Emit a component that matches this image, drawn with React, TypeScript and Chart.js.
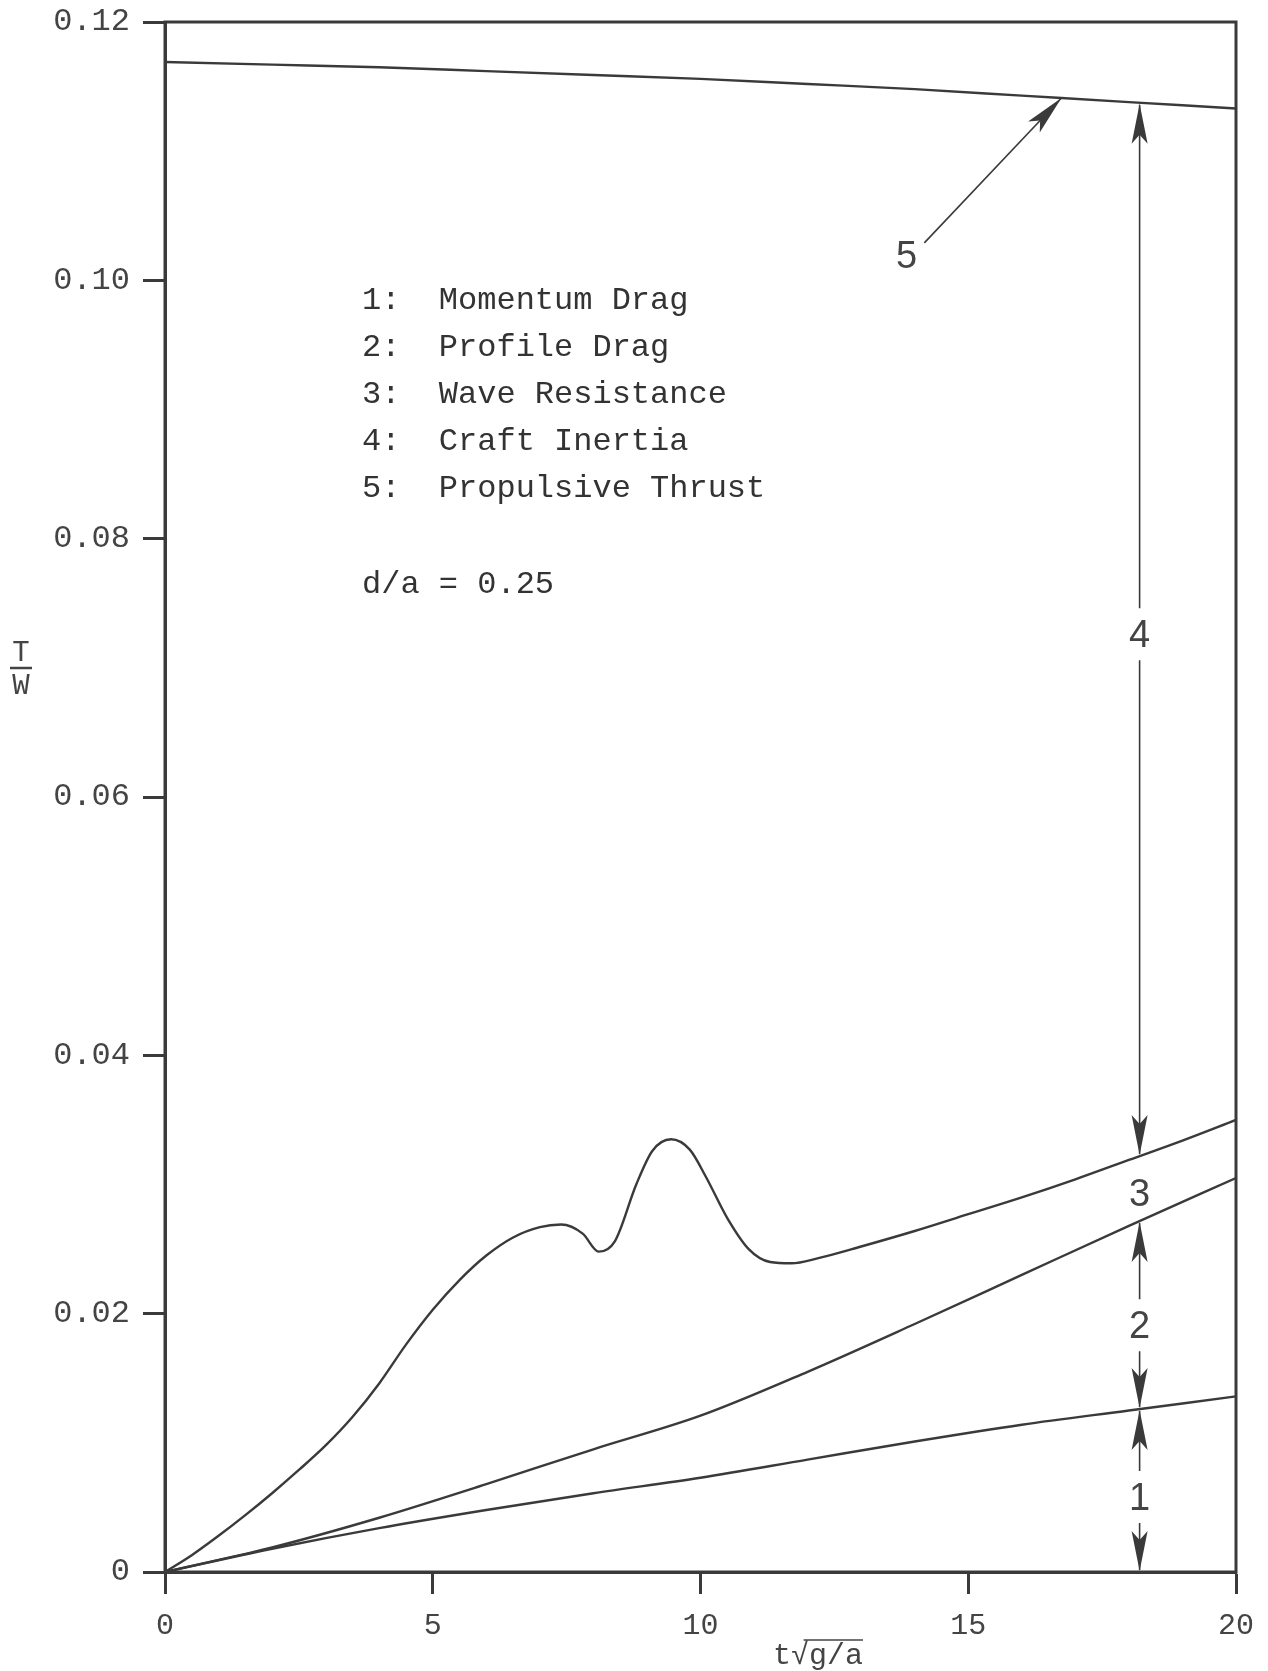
import React, { useEffect, useRef } from 'react';
import { Chart, registerables } from 'chart.js';

Chart.register(...registerables);

// ---- data ----
const xGrid = [0, 2, 4, 6, 8, 10, 12, 14, 16, 18, 20];
const momentumDrag = [0, 0.0018, 0.0034, 0.0048, 0.0061, 0.0073, 0.0087, 0.0101, 0.0114, 0.0125, 0.0136];
const profileDrag = [0, 0.0019, 0.0042, 0.0068, 0.0095, 0.0121, 0.0155, 0.0192, 0.023, 0.0268, 0.0305];
const propulsiveThrust = [0.1169, 0.1167, 0.1165, 0.1162, 0.1159, 0.1156, 0.1152, 0.1148, 0.1143, 0.1138, 0.1133];

const xWave = [0, 0.5, 1, 1.5, 2, 2.5, 3, 3.5, 4, 4.5, 5, 5.5, 6, 6.5, 7, 7.4, 7.8, 8.1, 8.4, 8.8, 9.1, 9.45, 9.8, 10.1, 10.5, 10.9, 11.3, 11.7, 12.2, 13, 14, 15, 16, 17, 18, 19, 20];
const waveResistance = [0, 0.0013, 0.0028, 0.0044, 0.0061, 0.0079, 0.0098, 0.012, 0.0146, 0.0176, 0.0203, 0.0226, 0.0245, 0.0259, 0.0267, 0.0269, 0.0262, 0.0248, 0.0256, 0.03, 0.0326, 0.0335, 0.0327, 0.0306, 0.0274, 0.025, 0.024, 0.0239, 0.0243, 0.0252, 0.0264, 0.0277, 0.029, 0.0304, 0.0319, 0.0334, 0.035];

const xTicks = [0, 5, 10, 15, 20];
const yTicks = [0, 0.02, 0.04, 0.06, 0.08, 0.1, 0.12];

const legendLines = ['1:  Momentum Drag', '2:  Profile Drag', '3:  Wave Resistance', '4:  Craft Inertia', '5:  Propulsive Thrust'];
const ratioLabel = 'd/a = 0.25';

// annotation anchors in data units
const stackX = 18.2;
const stackLabels = [
  { text: '4', y: 0.0726 },
  { text: '3', y: 0.0293 },
  { text: '2', y: 0.0191 },
  { text: '1', y: 0.0058 },
];
const arrow5TipX = 16.74;
const arrow5Tail = { x: 14.18, y: 0.1029 };
const label5 = { x: 13.85, y: 0.1019 };

const INK = '#3a3a3a';

function interp(xs: number[], ys: number[], x: number) {
  for (let i = 0; i < xs.length - 1; i++) {
    if (x >= xs[i] && x <= xs[i + 1]) {
      const t = (x - xs[i]) / (xs[i + 1] - xs[i]);
      return ys[i] + t * (ys[i + 1] - ys[i]);
    }
  }
  return ys[ys.length - 1];
}

function arrowHead(ctx: CanvasRenderingContext2D, tx: number, ty: number, dx: number, dy: number) {
  const len = Math.hypot(dx, dy) || 1;
  const ux = dx / len, uy = dy / len;
  const px = -uy, py = ux;
  const L = 40, W = 8, N = 9;
  const bx = tx - ux * L, by = ty - uy * L;
  ctx.beginPath();
  ctx.moveTo(tx, ty);
  ctx.lineTo(bx + px * W, by + py * W);
  ctx.lineTo(tx - ux * (L - N), ty - uy * (L - N));
  ctx.lineTo(bx - px * W, by - py * W);
  ctx.closePath();
  ctx.fill();
}

const annotPlugin = {
  id: 'annot',
  afterDraw(chart: any) {
    const { ctx, chartArea: ca, scales } = chart;
    const xs = scales.x, ys = scales.y;
    ctx.save();

    // frame
    ctx.strokeStyle = INK;
    ctx.lineWidth = 3;
    ctx.strokeRect(ca.left, ca.top, ca.right - ca.left, ca.bottom - ca.top);

    // legend text
    ctx.fillStyle = '#333';
    ctx.font = '32px "Liberation Mono", "DejaVu Sans Mono", monospace';
    ctx.textAlign = 'left';
    ctx.textBaseline = 'middle';
    legendLines.forEach((t, i) => ctx.fillText(t, ca.left + 197, ca.top + 279 + i * 47));
    ctx.fillText(ratioLabel, ca.left + 197, ca.top + 563);

    // stacked dimension arrows
    const sx = xs.getPixelForValue(stackX);
    const y5 = ys.getPixelForValue(interp(xGrid, propulsiveThrust, stackX));
    const y3 = ys.getPixelForValue(interp(xWave, waveResistance, stackX));
    const y2 = ys.getPixelForValue(interp(xGrid, profileDrag, stackX));
    const y1 = ys.getPixelForValue(interp(xGrid, momentumDrag, stackX));
    const y0 = ys.getPixelForValue(0);
    const gap = 26;
    ctx.strokeStyle = INK;
    ctx.fillStyle = INK;
    ctx.lineWidth = 1.6;
    const segs = [
      { top: y5, bottom: y3, label: stackLabels[0] },
      { top: y2, bottom: y1, label: stackLabels[2] },
      { top: y1, bottom: y0, label: stackLabels[3] },
    ];
    ctx.font = '38px "Liberation Sans Narrow", "Liberation Sans", sans-serif';
    ctx.textAlign = 'center';
    ctx.textBaseline = 'middle';
    segs.forEach((s) => {
      const ly = ys.getPixelForValue(s.label.y);
      ctx.beginPath();
      ctx.moveTo(sx, s.top + 2);
      ctx.lineTo(sx, ly - gap);
      ctx.moveTo(sx, ly + gap);
      ctx.lineTo(sx, s.bottom - 2);
      ctx.stroke();
      arrowHead(ctx, sx, s.top + 1, 0, -1);
      arrowHead(ctx, sx, s.bottom - 1, 0, 1);
      ctx.fillStyle = '#444';
      ctx.fillText(s.label.text, sx, ly + 2);
      ctx.fillStyle = INK;
    });
    ctx.fillStyle = '#444';
    ctx.fillText(stackLabels[1].text, sx, ys.getPixelForValue(stackLabels[1].y) + 2);

    // arrow 5
    const tx = xs.getPixelForValue(arrow5TipX);
    const ty = ys.getPixelForValue(interp(xGrid, propulsiveThrust, arrow5TipX));
    const ax = xs.getPixelForValue(arrow5Tail.x);
    const ay = ys.getPixelForValue(arrow5Tail.y);
    ctx.fillStyle = INK;
    ctx.beginPath();
    ctx.moveTo(ax, ay);
    ctx.lineTo(tx, ty);
    ctx.stroke();
    arrowHead(ctx, tx, ty, tx - ax, ty - ay);
    ctx.fillStyle = '#444';
    ctx.fillText('5', xs.getPixelForValue(label5.x), ys.getPixelForValue(label5.y) + 2);

    // y axis title T / W
    ctx.fillStyle = '#444';
    ctx.font = '29px "Liberation Mono", monospace';
    ctx.textAlign = 'center';
    ctx.textBaseline = 'middle';
    const tyc = (ca.top + ca.bottom) / 2 - 130;
    ctx.fillText('T', 21, tyc - 14);
    ctx.fillText('W', 21, tyc + 19);
    ctx.lineWidth = 2.5;
    ctx.strokeStyle = '#444';
    ctx.beginPath();
    ctx.moveTo(10, tyc + 1);
    ctx.lineTo(32, tyc + 1);
    ctx.stroke();

    // x axis title t sqrt(g/a)
    ctx.font = '30px "Liberation Mono", monospace';
    ctx.textAlign = 'left';
    ctx.textBaseline = 'alphabetic';
    const parts = ['t', '\u221A', 'g/a'];
    const widths = parts.map((p) => ctx.measureText(p).width);
    const total = widths.reduce((a, b) => a + b, 0);
    let cx = 818 - total / 2;
    const base = 1664;
    ctx.fillText(parts[0], cx, base);
    cx += widths[0];
    ctx.fillText(parts[1], cx, base);
    const olStart = cx + widths[1] * 0.7;
    cx += widths[1];
    ctx.fillText(parts[2], cx, base);
    ctx.lineWidth = 1.6;
    ctx.beginPath();
    ctx.moveTo(olStart, base - 24);
    ctx.lineTo(cx + widths[2], base - 24);
    ctx.stroke();

    ctx.restore();
  },
};

function App() {
  const ref = useRef<HTMLCanvasElement | null>(null);
  useEffect(() => {
    if (!ref.current) return;
    const line = (xs: number[], ys: number[]) => xs.map((x, i) => ({ x, y: ys[i] }));
    const common = {
      borderColor: INK,
      borderWidth: 2.4,
      pointRadius: 0,
      fill: false,
      cubicInterpolationMode: 'monotone' as const,
    };
    const chart = new Chart(ref.current, {
      type: 'line',
      data: {
        datasets: [
          { label: 'Momentum Drag', data: line(xGrid, momentumDrag), ...common },
          { label: 'Profile Drag', data: line(xGrid, profileDrag), ...common },
          { label: 'Wave Resistance', data: line(xWave, waveResistance), ...common },
          { label: 'Propulsive Thrust', data: line(xGrid, propulsiveThrust), ...common },
        ],
      },
      options: {
        animation: false,
        responsive: true,
        maintainAspectRatio: false,
        layout: { padding: { left: 0, top: 22, right: 32, bottom: 0 } },
        plugins: { legend: { display: false }, tooltip: { enabled: false } },
        scales: {
          x: {
            type: 'linear',
            min: 0,
            max: 20,
            afterBuildTicks: (s: any) => { s.ticks = xTicks.map((v) => ({ value: v })); },
            afterFit: (s: any) => { s.height = 99; s.paddingLeft = 0; s.paddingRight = 0; },
            grid: { drawOnChartArea: false, drawTicks: true, tickLength: 22, tickWidth: 3, tickColor: INK },
            border: { display: true, width: 3, color: INK },
            ticks: {
              padding: 14,
              color: '#444',
              font: { family: '"Liberation Mono", monospace', size: 30 },
              callback: (v: any) => String(v),
            },
          },
          y: {
            type: 'linear',
            min: 0,
            max: 0.12,
            afterBuildTicks: (s: any) => { s.ticks = yTicks.map((v) => ({ value: v })); },
            afterFit: (s: any) => { s.width = 165; s.paddingTop = 0; s.paddingBottom = 0; },
            grid: { drawOnChartArea: false, drawTicks: true, tickLength: 22, tickWidth: 3, tickColor: INK },
            border: { display: true, width: 3, color: INK },
            ticks: {
              padding: 13,
              color: '#444',
              font: { family: '"Liberation Mono", monospace', size: 32 },
              callback: (v: any) => (v === 0 ? '0' : Number(v).toFixed(2)),
            },
          },
        },
      },
      plugins: [annotPlugin],
    });
    return () => chart.destroy();
  }, []);
  return (
    <div style={{ position: 'absolute', left: 0, top: 0, width: 1268, height: 1671, background: '#fff' }}>
      <canvas ref={ref} />
    </div>
  );
}

export default App;
